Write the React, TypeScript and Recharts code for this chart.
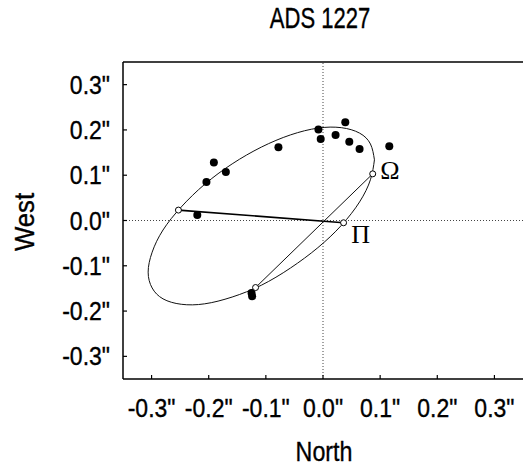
import React from 'react';
import { ScatterChart, Scatter, XAxis, YAxis, ReferenceLine } from 'recharts';

const title = 'ADS 1227';
const xLabel = 'North';
const yLabel = 'West';
const xTicks = [-0.3, -0.2, -0.1, 0, 0.1, 0.2, 0.3];
const yTicks = [-0.3, -0.2, -0.1, 0, 0.1, 0.2, 0.3];

const observations = [
  { x: -0.204, y: 0.085 },
  { x: -0.191, y: 0.128 },
  { x: -0.170, y: 0.107 },
  { x: -0.220, y: 0.012 },
  { x: -0.078, y: 0.162 },
  { x: -0.008, y: 0.201 },
  { x: -0.004, y: 0.180 },
  { x: 0.039, y: 0.217 },
  { x: 0.022, y: 0.189 },
  { x: 0.046, y: 0.174 },
  { x: 0.064, y: 0.158 },
  { x: 0.116, y: 0.164 },
  { x: -0.125, y: -0.160 },
  { x: -0.124, y: -0.167 },
];

const orbit = [
  { x: 0.090, y: 0.134 },
  { x: 0.083, y: 0.090 },
  { x: 0.064, y: 0.041 },
  { x: 0.032, y: -0.011 },
  { x: -0.009, y: -0.060 },
  { x: -0.057, y: -0.105 },
  { x: -0.108, y: -0.143 },
  { x: -0.159, y: -0.169 },
  { x: -0.207, y: -0.184 },
  { x: -0.248, y: -0.185 },
  { x: -0.280, y: -0.173 },
  { x: -0.299, y: -0.149 },
  { x: -0.306, y: -0.114 },
  { x: -0.299, y: -0.070 },
  { x: -0.280, y: -0.021 },
  { x: -0.248, y: 0.030 },
  { x: -0.207, y: 0.080 },
  { x: -0.159, y: 0.125 },
  { x: -0.108, y: 0.162 },
  { x: -0.057, y: 0.189 },
  { x: -0.009, y: 0.204 },
  { x: 0.032, y: 0.205 },
  { x: 0.064, y: 0.193 },
  { x: 0.083, y: 0.169 },
  { x: 0.090, y: 0.134 },
];

const apsides = [
  { x: -0.253, y: 0.023 },
  { x: 0.036, y: -0.005 },
];

const nodes = [
  { x: 0.087, y: 0.103 },
  { x: -0.118, y: -0.148 },
];

const keyPoints = [
  { x: -0.253, y: 0.023 },
  { x: 0.087, y: 0.103 },
  { x: 0.036, y: -0.005 },
  { x: -0.118, y: -0.148 },
];

const symbols = [
  { x: 0.117, y: 0.110, label: 'Ω' },
  { x: 0.066, y: -0.030, label: 'Π' },
];

const SANS = '"Liberation Sans", Arial, Helvetica, sans-serif';
const SERIF = '"Liberation Serif", "Times New Roman", serif';
const fmt = (v: number) => `${v.toFixed(1)}"`;

const XTick = (p: any) => (
  <g>
    <line x1={p.x} y1={p.y} x2={p.x} y2={p.y - 4} stroke="#000" strokeWidth={1.2} />
    <text
      transform={`translate(${p.x},${p.y + 38}) scale(0.92,1)`}
      x={0}
      y={0}
      textAnchor="middle"
      fontSize={25}
      fontFamily={SANS}
      fill="#000"
      stroke="#000"
      strokeWidth={0.35}
    >
      {fmt(p.payload.value)}
    </text>
  </g>
);

const YTick = (p: any) => (
  <g>
    <line x1={p.x} y1={p.y} x2={p.x + 4} y2={p.y} stroke="#000" strokeWidth={1.2} />
    <text
      transform={`translate(${p.x - 13},${p.y + 9}) scale(0.92,1)`}
      x={0}
      y={0}
      textAnchor="end"
      fontSize={25}
      fontFamily={SANS}
      fill="#000"
      stroke="#000"
      strokeWidth={0.35}
    >
      {fmt(p.payload.value)}
    </text>
  </g>
);

const Empty = () => <g />;

export default function App() {
  return (
    <div style={{ position: 'absolute', left: 0, top: 0, background: '#fff' }}>
      <ScatterChart width={523} height={472} margin={{ top: 0, right: 0, bottom: 0, left: 0 }}>
        <XAxis
          xAxisId="top"
          orientation="top"
          type="number"
          dataKey="x"
          domain={[-0.35, 0.35]}
          height={62}
          tick={false}
          tickLine={false}
          axisLine={{ stroke: '#000', strokeWidth: 1.5 }}
          label={(props: any) => (
            <text
              transform="translate(320,28) scale(0.76,1)"
              x={0}
              y={0}
              textAnchor="middle"
              fontSize={29}
              fontFamily={SANS}
              fill="#000"
              stroke="#000"
              strokeWidth={0.35}
            >
              {title}
            </text>
          )}
        />
        <XAxis
          type="number"
          dataKey="x"
          domain={[-0.35, 0.35]}
          ticks={xTicks}
          height={93}
          tickSize={0}
          tickMargin={0}
          tickLine={false}
          tick={XTick}
          interval={0}
          axisLine={{ stroke: '#000', strokeWidth: 1.5 }}
          label={(props: any) => (
            <text
              transform="translate(324,461) scale(0.83,1)"
              x={0}
              y={0}
              textAnchor="middle"
              fontSize={28}
              fontFamily={SANS}
              fill="#000"
              stroke="#000"
              strokeWidth={0.35}
            >
              {xLabel}
            </text>
          )}
        />
        <YAxis
          type="number"
          dataKey="y"
          domain={[-0.35, 0.35]}
          ticks={yTicks}
          width={123}
          tickSize={0}
          tickMargin={0}
          tickLine={false}
          tick={YTick}
          interval={0}
          axisLine={{ stroke: '#000', strokeWidth: 1.5 }}
          label={(props: any) => (
            <text
              transform="translate(34,222) rotate(-90) scale(0.92,1)"
              x={0}
              y={0}
              textAnchor="middle"
              fontSize={28}
              fontFamily={SANS}
              fill="#000"
              stroke="#000"
              strokeWidth={0.35}
            >
              {yLabel}
            </text>
          )}
        />
        <ReferenceLine x={0} stroke="#444" strokeDasharray="1 2" strokeWidth={1} />
        <ReferenceLine y={0} stroke="#444" strokeDasharray="1 2" strokeWidth={1} />
        <Scatter
          data={orbit}
          line={{ stroke: '#111', strokeWidth: 1 }}
          lineJointType="natural"
          shape={Empty}
          isAnimationActive={false}
        />
        <Scatter
          data={apsides}
          line={{ stroke: '#000', strokeWidth: 1.6 }}
          shape={Empty}
          isAnimationActive={false}
        />
        <Scatter
          data={nodes}
          line={{ stroke: '#111', strokeWidth: 1 }}
          shape={Empty}
          isAnimationActive={false}
        />
        <Scatter
          data={observations}
          shape={(p: any) => <circle cx={p.cx} cy={p.cy} r={4} fill="#000" />}
          isAnimationActive={false}
        />
        <Scatter
          data={keyPoints}
          shape={(p: any) => <circle cx={p.cx} cy={p.cy} r={3} fill="#fff" stroke="#000" strokeWidth={1} />}
          isAnimationActive={false}
        />
        <Scatter
          data={symbols}
          shape={(p: any) => (
            <text
              x={p.cx}
              y={p.cy}
              textAnchor="middle"
              dominantBaseline="central"
              fontSize={26}
              fontFamily={SERIF}
              fill="#000"
            >
              {(p.payload && p.payload.label) || p.label}
            </text>
          )}
          isAnimationActive={false}
        />
      </ScatterChart>
    </div>
  );
}
